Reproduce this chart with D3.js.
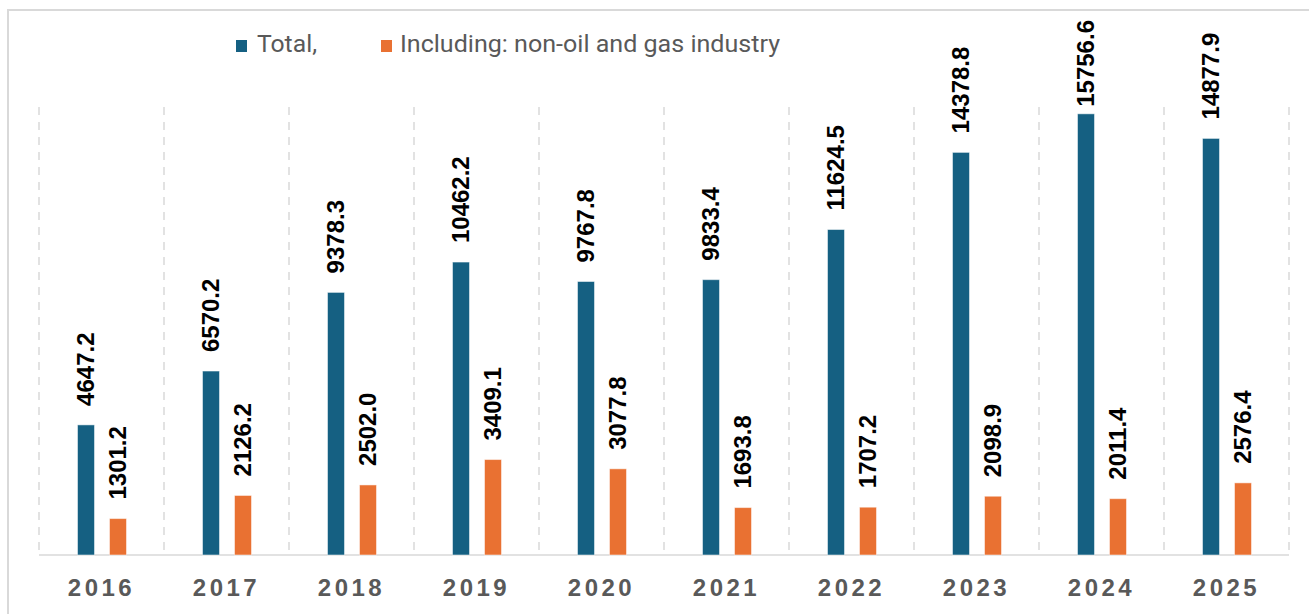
<!DOCTYPE html>
<html lang="en">
<head>
    <meta charset="UTF-8">
    <title>Total vs non-oil and gas industry</title>
    <script src="https://d3js.org/d3.v7.min.js"></script>
    <style>
        body {
            margin: 0;
            background: #fff;
        }
        svg { display: block; }
    </style>
</head>
<body>
    <svg id="chart" width="1309" height="614"></svg>
    <script>
    const years = ["2016", "2017", "2018", "2019", "2020", "2021", "2022", "2023", "2024", "2025"];
    const totalValues = [4647.2, 6570.2, 9378.3, 10462.2, 9767.8, 9833.4, 11624.5, 14378.8, 15756.6, 14877.9];
    const nonOilValues = [1301.2, 2126.2, 2502.0, 3409.1, 3077.8, 1693.8, 1707.2, 2098.9, 2011.4, 2576.4];
    const seriesNames = ["Total,", "Including: non-oil and gas industry"];
    const seriesColors = ["#156082", "#E97132"];

    const svg = d3.select("#chart");
    const width = +svg.attr("width");
    const height = +svg.attr("height");
    const plot = { left: 39, right: 1289, top: 107, bottom: 555 };

    // outer chart border (cropped on right/bottom in the reference)
    svg.append("rect")
        .attr("x", 8).attr("y", 10)
        .attr("width", width + 20).attr("height", height + 20)
        .attr("fill", "none")
        .attr("stroke", "#d9d9d9")
        .attr("stroke-width", 2);

    const x0 = d3.scaleBand()
        .domain(years)
        .range([plot.left, plot.right])
        .paddingInner(0).paddingOuter(0);

    const x1 = d3.scaleBand()
        .domain(["total", "nonOil"])
        .range([38.5, 87.5])
        .paddingInner(15 / 32)
        .paddingOuter(0);

    const y = d3.scaleLinear()
        .domain([0, 16000])
        .range([plot.bottom, plot.top]);

    // vertical dashed separators
    const bounds = d3.range(years.length + 1).map(i => plot.left + i * x0.step());
    svg.append("g").selectAll("line")
        .data(bounds)
        .enter().append("line")
        .attr("x1", d => d).attr("x2", d => d)
        .attr("y1", plot.top).attr("y2", plot.bottom)
        .attr("stroke", "#d9d9d9")
        .attr("stroke-width", 1.5)
        .attr("stroke-dasharray", "8,7");

    // baseline
    svg.append("line")
        .attr("x1", plot.left).attr("x2", plot.right)
        .attr("y1", plot.bottom).attr("y2", plot.bottom)
        .attr("stroke", "#d9d9d9")
        .attr("stroke-width", 1.5);

    const rows = years.map((yr, i) => ({
        year: yr,
        vals: [
            { key: "total", v: totalValues[i], c: seriesColors[0] },
            { key: "nonOil", v: nonOilValues[i], c: seriesColors[1] }
        ]
    }));

    const groups = svg.append("g").selectAll("g")
        .data(rows)
        .enter().append("g")
        .attr("transform", d => `translate(${x0(d.year)},0)`);

    groups.selectAll("rect")
        .data(d => d.vals)
        .enter().append("rect")
        .attr("x", d => x1(d.key))
        .attr("width", x1.bandwidth())
        .attr("y", d => y(d.v))
        .attr("height", d => y(0) - y(d.v))
        .attr("fill", d => d.c)
        .attr("stroke", "#ffffff")
        .attr("stroke-opacity", 0.5)
        .attr("stroke-width", 1);

    // rotated value labels
    groups.selectAll("text.val")
        .data(d => d.vals)
        .enter().append("text")
        .attr("class", "val")
        .attr("font-family", "'Liberation Sans', Arial, sans-serif")
        .attr("font-weight", "bold")
        .attr("font-size", "24px")
        .attr("fill", "#000")
        .attr("dy", "0.35em")
        .text(d => d.v.toFixed(1))
        .each(function(d) {
            const len = this.getComputedTextLength();
            let yEnd = y(d.v) - 19;
            if (yEnd - len < 20) yEnd = 20 + len;
            const cx = x1(d.key) + x1.bandwidth() / 2;
            d3.select(this).attr("transform", `translate(${cx},${yEnd}) rotate(-90)`);
        });

    // year labels
    svg.append("g").selectAll("text")
        .data(years)
        .enter().append("text")
        .attr("x", d => x0(d) + x0.bandwidth() / 2)
        .attr("y", 596)
        .attr("text-anchor", "middle")
        .attr("font-family", "'Liberation Sans', Arial, sans-serif")
        .attr("font-weight", "bold")
        .attr("font-size", "24px")
        .attr("letter-spacing", "3.5px")
        .attr("fill", "#595959")
        .text(d => d);

    // legend
    const legendItems = [
        { name: seriesNames[0], color: seriesColors[0], sx: 236, tx: 257, tw: 60 },
        { name: seriesNames[1], color: seriesColors[1], sx: 381, tx: 400, tw: 380 }
    ];
    const legend = svg.append("g");
    legend.selectAll("rect")
        .data(legendItems)
        .enter().append("rect")
        .attr("x", d => d.sx).attr("y", 40)
        .attr("width", 11).attr("height", 12)
        .attr("fill", d => d.color);
    legend.selectAll("text")
        .data(legendItems)
        .enter().append("text")
        .attr("x", d => d.tx).attr("y", 52)
        .attr("font-family", "Roboto, 'Noto Sans', sans-serif")
        .attr("font-size", "23.5px")
        .attr("fill", "#595959")
        .attr("textLength", d => d.tw)
        .attr("lengthAdjust", "spacingAndGlyphs")
        .text(d => d.name);
    </script>
</body>
</html>
